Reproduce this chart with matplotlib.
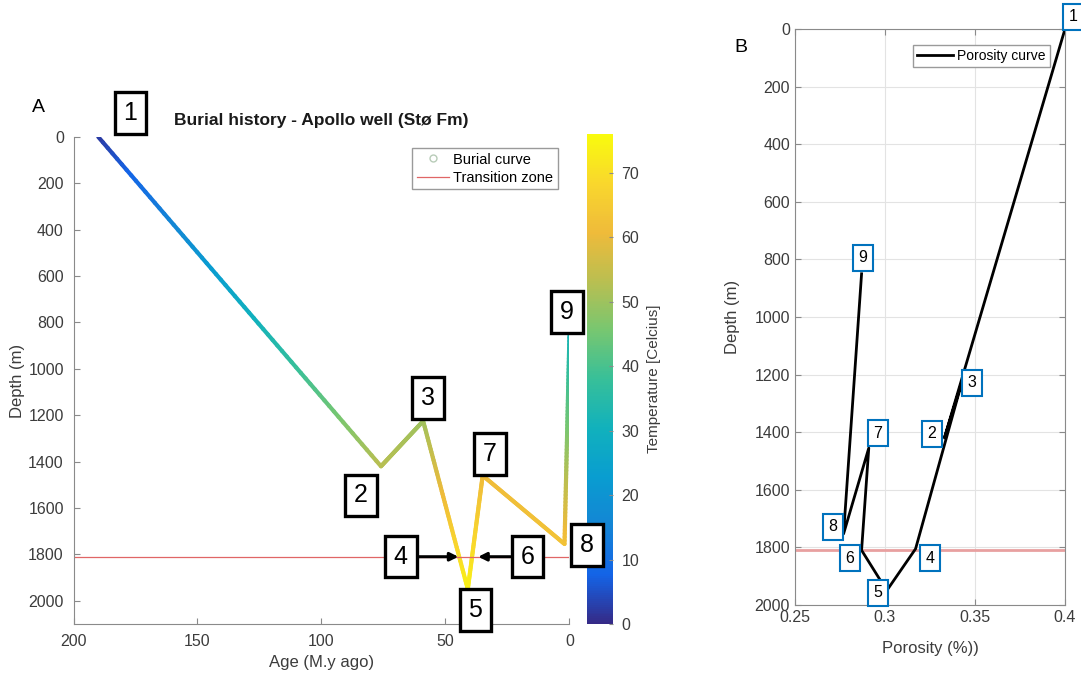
import numpy as np
import matplotlib
matplotlib.use('Agg')
import matplotlib.pyplot as plt
from matplotlib.collections import LineCollection
from matplotlib.colors import LinearSegmentedColormap
from matplotlib.lines import Line2D

plt.rcParams['font.family'] = ['Liberation Sans', 'DejaVu Sans']

# --- Painel A: historia de soterramento ---
idade = [190, 76, 59, 41, 35, 2, 0]            # M.y ago
prof_a = [0, 1420, 1225, 1950, 1460, 1755, 850]  # m
temperatura = [2, 53, 50, 74, 61, 63, 32]       # Celcius
zona_transicao = 1810

rotulos_a = ['1', '2', '3', '4', '5', '6', '7', '8', '9']
rot_a_x = [177, 84, 57, 68, 38, 17, 32, -7, 1]
rot_a_y = [-103, 1545, 1125, 1810, 2040, 1810, 1366, 1760, 754]
seta_alvo = {'4': 44.8, '6': 36.8}

# --- Painel B: curva de porosidade ---
porosidade = [0.400, 0.333, 0.343, 0.317, 0.301, 0.287, 0.291, 0.277, 0.287]
prof_b = [0, 1420, 1220, 1805, 1950, 1810, 1455, 1753, 850]
rotulos_b = ['1', '2', '3', '4', '5', '6', '7', '8', '9']
rot_b_x = [0.4044, 0.326, 0.3483, 0.325, 0.296, 0.2806, 0.296, 0.271, 0.2878]
rot_b_y = [-42, 1406, 1229, 1837, 1958, 1837, 1403, 1729, 795]

# parula (aproximado)
parula = LinearSegmentedColormap.from_list('parula', [
    (0.2081, 0.1663, 0.5292), (0.0759, 0.3919, 0.9078), (0.0780, 0.5213, 0.8341),
    (0.0359, 0.6167, 0.8163), (0.0669, 0.6952, 0.7385), (0.2178, 0.7507, 0.5993),
    (0.4684, 0.7786, 0.4407), (0.7285, 0.7480, 0.3171), (0.9363, 0.7319, 0.2288),
    (0.9759, 0.8423, 0.1767), (0.9763, 0.9831, 0.0538)])

cor_texto = '#3c3c3c'
cor_eixo = '#8a8a8a'

fig = plt.figure(figsize=(10.81, 6.77), dpi=100)
cax = fig.add_axes([0.543, 0.0783, 0.024, 0.7238])
ax = fig.add_axes([0.068, 0.0783, 0.4588, 0.7194])
axb = fig.add_axes([0.7354, 0.1064, 0.2498, 0.8508])
ax.set_zorder(3)
ax.patch.set_alpha(0)


def linha_colorida(ax, x, y, c, passos=60):
    # cada trecho e dividido para o degrade de cor
    segs, vals = [], []
    for i in range(len(x) - 1):
        t = np.linspace(0, 1, passos + 1)
        xs = x[i] + (x[i + 1] - x[i]) * t
        ys = y[i] + (y[i + 1] - y[i]) * t
        cs = c[i] + (c[i + 1] - c[i]) * t
        pts = np.column_stack([xs, ys])
        segs += [pts[k:k + 2] for k in range(passos)]
        vals += list((cs[:-1] + cs[1:]) / 2)
    lc = LineCollection(segs, cmap=parula, linewidths=3.0, capstyle='round')
    lc.set_array(np.array(vals))
    lc.set_clim(0, 76)
    ax.add_collection(lc)
    return lc


lc = linha_colorida(ax, idade, prof_a, temperatura)
ax.axhline(zona_transicao, color='#e06666', lw=0.9)
ax.set_xlim(200, 0)
ax.set_ylim(2100, 0)
ax.set_xticks([200, 150, 100, 50, 0])
ax.set_yticks(range(0, 2001, 200))
for s in ['top', 'right']:
    ax.spines[s].set_visible(False)
for s in ['left', 'bottom']:
    ax.spines[s].set_color(cor_eixo)
ax.tick_params(direction='in', colors=cor_eixo, labelcolor=cor_texto, labelsize=11.5, length=4)
ax.tick_params(axis='y', pad=7)
ax.tick_params(axis='x', pad=7)
ax.set_xlabel('Age (M.y ago)', fontsize=12, color=cor_texto)
ax.set_ylabel('Depth (m)', fontsize=12, color=cor_texto)
ax.xaxis.set_label_coords(0.5, -0.064)
ax.yaxis.set_label_coords(-0.097, 0.5)

leg_a = [Line2D([], [], ls='none', marker='o', ms=5, mfc='none', mec='#b8ccb8'),
         Line2D([], [], color='#e06666', lw=0.9)]
lg = ax.legend(leg_a, ['Burial curve', 'Transition zone'], loc='upper right',
               bbox_to_anchor=(0.976, 0.977), borderaxespad=0, fancybox=False,
               fontsize=10.5, handlelength=2.2, handletextpad=0.3, borderpad=0.3,
               labelspacing=0.3, framealpha=1)
lg.get_frame().set_edgecolor('#9a9a9a')

caixa = dict(boxstyle='square,pad=0.35', fc='white', ec='black', lw=2.4)
for r, x, y in zip(rotulos_a, rot_a_x, rot_a_y):
    if r in seta_alvo:
        ax.annotate(r, xy=(seta_alvo[r], y), xytext=(x, y), fontsize=18,
                    ha='center', va='center', bbox=caixa, annotation_clip=False,
                    arrowprops=dict(arrowstyle='-|>', color='black', lw=2.2,
                                    mutation_scale=12, shrinkA=0, shrinkB=0))
    else:
        ax.text(x, y, r, fontsize=18, ha='center', va='center', bbox=caixa, clip_on=False)

cb = fig.colorbar(lc, cax=cax)
cb.set_ticks(range(0, 71, 10))
cb.outline.set_visible(False)
cax.tick_params(direction='in', colors=cor_eixo, labelcolor=cor_texto, labelsize=11.5,
                length=3, pad=6)
cb.set_label('Temperature [Celcius]', fontsize=11, color=cor_texto)
cax.yaxis.set_label_coords(2.3, 0.5)

fig.text(321 / 1081, 1 - 121 / 677, 'Burial history - Apollo well (Stø Fm)',
         fontsize=12.5, fontweight='bold', ha='center', va='center', color='#1a1a1a')
fig.text(38 / 1081, 1 - 108 / 677, 'A', fontsize=14, ha='center', va='center')
fig.text(741 / 1081, 1 - 47 / 677, 'B', fontsize=14, ha='center', va='center')

# --- Painel B ---
axb.plot(porosidade, prof_b, color='black', lw=2.0, label='Porosity curve', zorder=3)
axb.axhline(zona_transicao, color='#e8a0a0', lw=2.0, zorder=2)
axb.set_xlim(0.25, 0.4)
axb.set_ylim(2000, 0)
axb.set_xticks([0.25, 0.3, 0.35, 0.4])
axb.set_xticklabels(['0.25', '0.3', '0.35', '0.4'])
axb.set_yticks(range(0, 2001, 200))
axb.grid(True, color='#e3e3e3', lw=0.8)
axb.set_axisbelow(True)
for s in axb.spines.values():
    s.set_color(cor_eixo)
axb.tick_params(direction='in', colors=cor_eixo, labelcolor=cor_texto, labelsize=11.5,
                length=4, top=True, right=True)
axb.set_xlabel('Porosity (%))', fontsize=12, color=cor_texto)
axb.set_ylabel('Depth (m)', fontsize=12, color=cor_texto)
axb.xaxis.set_label_coords(0.5, -0.062)
axb.yaxis.set_label_coords(-0.204, 0.5)
lgb = axb.legend(loc='upper right', bbox_to_anchor=(0.944, 0.972), borderaxespad=0,
                 fancybox=False, fontsize=10, handlelength=2.6, handletextpad=0.3,
                 borderpad=0.3, framealpha=1)
lgb.get_frame().set_edgecolor('#9a9a9a')

caixa_b = dict(boxstyle='square,pad=0.35', fc='white', ec='#0072bd', lw=1.5)
for r, x, y in zip(rotulos_b, rot_b_x, rot_b_y):
    axb.text(x, y, r, fontsize=11.5, ha='center', va='center', bbox=caixa_b,
             clip_on=False, zorder=4)

fig.savefig('out.png', dpi=100)
